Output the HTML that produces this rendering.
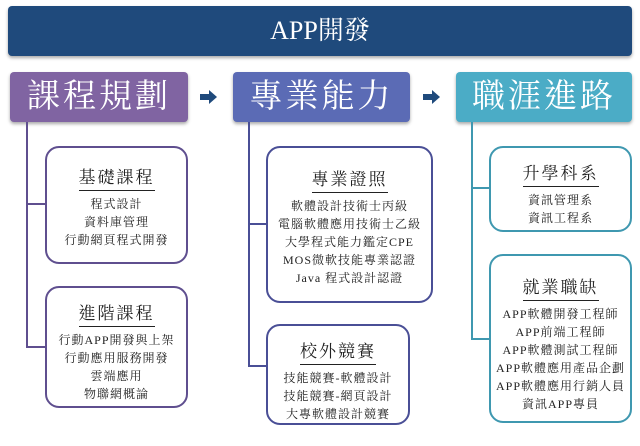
<!DOCTYPE html>
<html><head><meta charset="utf-8"><style>
body{margin:0;width:640px;height:446px;background:#fff;position:relative;overflow:hidden;font-family:"Liberation Serif","Noto Serif CJK TC","Noto Serif CJK SC",serif}
.a{position:absolute;box-sizing:border-box}
.top{left:8px;top:6px;width:624px;height:50px;background:#1f4a7c;border-radius:4px;color:#fff;font-size:26px;text-align:center;line-height:50px;box-shadow:0 2px 3px #aaa}
.h{top:72px;height:50px;border-radius:4px;color:#fff;font-size:33px;text-align:center;line-height:50px;letter-spacing:3px;box-shadow:0 2px 3px #aaa}
.box{border:2px solid;border-radius:14px;background:#fff;text-align:center;color:#222;font-size:12px;line-height:18px;letter-spacing:1px}
.box b{display:inline-block;font-weight:normal;font-size:17px;border-bottom:1px solid #222;line-height:24px;margin-bottom:4px;letter-spacing:2px}
.ln{position:absolute}
.arr{position:absolute;width:0;height:0;border-top:7px solid transparent;border-bottom:7px solid transparent;border-left:8px solid #1f4a7c}
</style></head><body>
<div class="a top">APP開發</div>
<div class="a h" style="left:10px;width:178px;background:#8064a2">課程規劃</div>
<div class="a h" style="left:233px;width:177px;background:#5b6bb5">專業能力</div>
<div class="a h" style="left:456px;width:176px;background:#4bacc6">職涯進路</div>
<div class="ln" style="left:200px;top:94px;width:10px;height:6px;background:#1f4a7c"></div><div class="arr" style="left:209px;top:90px"></div>
<div class="ln" style="left:423px;top:94px;width:10px;height:6px;background:#1f4a7c"></div><div class="arr" style="left:432px;top:90px"></div>

<div class="ln" style="left:26px;top:122px;width:2px;height:226px;background:#5f4f8f"></div>
<div class="ln" style="left:26px;top:203px;width:20px;height:2px;background:#5f4f8f"></div>
<div class="ln" style="left:26px;top:346px;width:20px;height:2px;background:#5f4f8f"></div>
<div class="ln" style="left:248px;top:122px;width:2px;height:245px;background:#4a4f96"></div>
<div class="ln" style="left:248px;top:223px;width:20px;height:2px;background:#4a4f96"></div>
<div class="ln" style="left:248px;top:365px;width:20px;height:2px;background:#4a4f96"></div>
<div class="ln" style="left:471px;top:122px;width:2px;height:218px;background:#3f98b0"></div>
<div class="ln" style="left:471px;top:187px;width:20px;height:2px;background:#3f98b0"></div>
<div class="ln" style="left:471px;top:338px;width:20px;height:2px;background:#3f98b0"></div>

<div class="a box" style="left:45px;top:146px;width:143px;height:118px;border-color:#5f4f8f;padding-top:18px"><b>基礎課程</b><br>程式設計<br>資料庫管理<br>行動網頁程式開發</div>
<div class="a box" style="left:45px;top:286px;width:143px;height:122px;border-color:#5f4f8f;padding-top:14px"><b>進階課程</b><br>行動APP開發與上架<br>行動應用服務開發<br>雲端應用<br>物聯網概論</div>
<div class="a box" style="left:266px;top:146px;width:167px;height:157px;border-color:#4a4f96;padding-top:20px"><b>專業證照</b><br>軟體設計技術士丙級<br>電腦軟體應用技術士乙級<br>大學程式能力鑑定CPE<br>MOS微軟技能專業認證<br>Java 程式設計認證</div>
<div class="a box" style="left:266px;top:324px;width:144px;height:101px;border-color:#4a4f96;padding-top:14px"><b>校外競賽</b><br>技能競賽-軟體設計<br>技能競賽-網頁設計<br>大專軟體設計競賽</div>
<div class="a box" style="left:489px;top:146px;width:143px;height:86px;border-color:#3f98b0;padding-top:14px"><b>升學科系</b><br>資訊管理系<br>資訊工程系</div>
<div class="a box" style="left:489px;top:254px;width:143px;height:169px;border-color:#3f98b0;padding-top:20px"><b>就業職缺</b><br>APP軟體開發工程師<br>APP前端工程師<br>APP軟體測試工程師<br>APP軟體應用產品企劃<br>APP軟體應用行銷人員<br>資訊APP專員</div>
</body></html>
